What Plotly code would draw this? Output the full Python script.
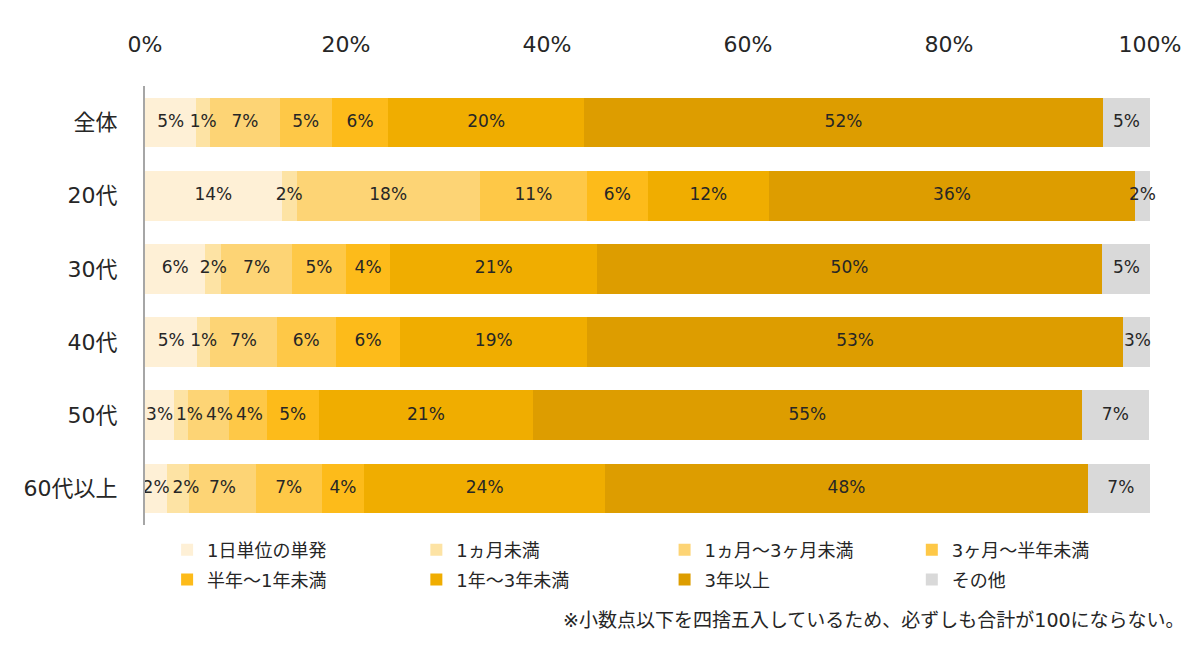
import plotly.graph_objects as go

categories = ["全体", "20代", "30代", "40代", "50代", "60代以上"]
series_names = ["1日単位の単発", "1ヵ月未満", "1ヵ月～3ヶ月未満", "3ヶ月～半年未満",
                "半年～1年未満", "1年～3年未満", "3年以上", "その他"]
# values per series, in category order
v_1day   = [5.1, 13.6, 6.0, 5.2, 2.9, 2.2]
v_1m     = [1.4, 1.5, 1.6, 1.3, 1.4, 2.2]
v_1_3m   = [6.9, 18.2, 7.0, 6.6, 4.1, 6.6]
v_3_6m   = [5.2, 10.7, 5.4, 5.9, 3.7, 6.6]
v_6_12m  = [5.6, 6.0, 4.4, 6.4, 5.2, 4.2]
v_1_3y   = [19.5, 12.1, 20.6, 18.6, 21.3, 24.0]
v_3y     = [51.6, 36.4, 50.2, 53.3, 54.6, 48.0]
v_other  = [4.7, 1.5, 4.9, 2.9, 6.7, 6.6]
series_values = [v_1day, v_1m, v_1_3m, v_3_6m, v_6_12m, v_1_3y, v_3y, v_other]
colors = ["#FEF0D6", "#FDE3A4", "#FDD475", "#FEC847",
          "#FDBB1A", "#F0AD00", "#DD9D00", "#D9D9D9"]
x_ticks = [0, 20, 40, 60, 80, 100]
x_tick_labels = ["0%", "20%", "40%", "60%", "80%", "100%"]
note = "※小数点以下を四捨五入しているため、必ずしも合計が100にならない。"

FONT = "DejaVu Sans, Noto Sans CJK JP"
TXT = "#262626"
LABEL_SIZE = 17
PLOT_W = 1200 - 145 - 50          # plot-area width in px
PX_PER_UNIT = PLOT_W / 100.0

# legend layout: 4 columns x 2 rows (paper coords relative to plot area)
leg_cols = [0.022, 0.270, 0.517, 0.763]
leg_rows = [-0.057, -0.125]

fig = go.Figure()
legends = {}
for i, (name, vals, col) in enumerate(zip(series_names, series_values, colors)):
    key = "legend" if i == 0 else f"legend{i + 1}"
    fig.add_trace(go.Bar(
        y=categories, x=vals, name=name, orientation="h",
        marker=dict(color=col, line=dict(width=0)),
        hoverinfo="skip",
        legend=key,
    ))
    legends[key] = dict(orientation="h", x=leg_cols[i % 4], xanchor="left",
                        y=leg_rows[i // 4], yanchor="middle",
                        font=dict(size=18, family=FONT, color=TXT),
                        itemclick=False, itemdoubleclick=False,
                        bgcolor="rgba(0,0,0,0)")


def label_width_units(txt):
    """Approximate rendered width of a label, converted to axis units."""
    px = sum(0.95 if c == "%" else 0.636 for c in txt) * LABEL_SIZE + 3
    return px / PX_PER_UNIT


# data labels drawn above all bars, centred on each stacked segment and
# pushed right where neighbouring labels would collide (as in the original)
n_cat = len(categories)
label_x = [[0.0] * n_cat for _ in series_values]
label_txt = [[f"{int(v + 0.5)}%" for v in vals] for vals in series_values]
for c in range(n_cat):
    base = 0.0
    prev_right = -1e9
    for s, vals in enumerate(series_values):
        mid = base + vals[c] / 2
        w = label_width_units(label_txt[s][c])
        x = max(mid, prev_right + w / 2)
        label_x[s][c] = x
        prev_right = x + w / 2
        base += vals[c]

for s in range(len(series_values)):
    fig.add_trace(go.Scatter(
        x=label_x[s], y=categories, mode="text",
        text=label_txt[s], textposition="middle center",
        textfont=dict(family=FONT, size=LABEL_SIZE, color=TXT),
        showlegend=False, hoverinfo="skip", cliponaxis=False,
    ))

fig.update_layout(
    barmode="stack", bargap=0.32,
    width=1200, height=646,
    margin=dict(l=145, r=50, t=86, b=121),
    plot_bgcolor="white", paper_bgcolor="white",
    font=dict(family=FONT, color=TXT),
    xaxis=dict(side="top", range=[0, 100], tickvals=x_ticks, ticktext=x_tick_labels,
               showgrid=False, zeroline=False, showline=False,
               tickfont=dict(size=22, family=FONT, color=TXT),
               ticklabelstandoff=29, fixedrange=True),
    yaxis=dict(categoryorder="array", categoryarray=categories, autorange="reversed",
               showgrid=False, zeroline=False, showline=True,
               linecolor="#A6A6A6", linewidth=2,
               tickfont=dict(size=22, family=FONT, color=TXT),
               ticklabelstandoff=21, fixedrange=True),
    showlegend=True,
    **legends,
)
fig.add_annotation(text=note, xref="paper", yref="paper", x=1.037, y=-0.216,
                   xanchor="right", yanchor="middle", showarrow=False,
                   font=dict(size=19, family=FONT, color=TXT))
fig.write_html("out.html")
